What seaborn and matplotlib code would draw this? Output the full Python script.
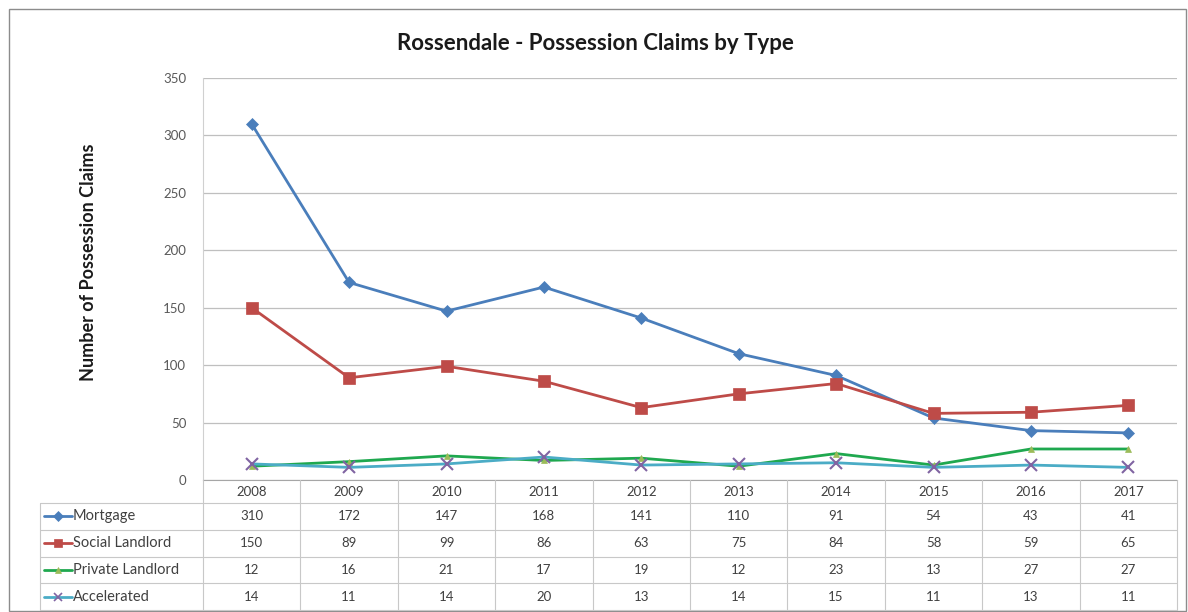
import numpy as np
import pandas as pd
import seaborn as sns
import matplotlib.pyplot as plt
from matplotlib.lines import Line2D
from matplotlib.patches import Rectangle

years = [2008, 2009, 2010, 2011, 2012, 2013, 2014, 2015, 2016, 2017]
mortgage = [310, 172, 147, 168, 141, 110, 91, 54, 43, 41]
social_landlord = [150, 89, 99, 86, 63, 75, 84, 58, 59, 65]
private_landlord = [12, 16, 21, 17, 19, 12, 23, 13, 27, 27]
accelerated = [14, 11, 14, 20, 13, 14, 15, 11, 13, 11]

series_names = ["Mortgage", "Social Landlord", "Private Landlord", "Accelerated"]
series_vals = [mortgage, social_landlord, private_landlord, accelerated]

# line colour, marker, marker size, marker face, marker edge
styles = {
    "Mortgage": ("#4A7EBB", "D", 6.5, "#4A7EBB", "#4A7EBB"),
    "Social Landlord": ("#BE4B48", "s", 8, "#BE4B48", "#BE4B48"),
    "Private Landlord": ("#1FA84F", "^", 5, "#9BBB59", "#9BBB59"),
    "Accelerated": ("#4BACC6", "x", 8, "#8064A2", "#8064A2"),
}

rows = []
for name, vals in zip(series_names, series_vals):
    for y, v in zip(years, vals):
        rows.append({"Year": y, "Type": name, "Claims": v})
df = pd.DataFrame(rows)

sns.set_style("white")
plt.rcParams['font.family'] = ['Lato', 'DejaVu Sans']

W, H = 1188, 612
fig = plt.figure(figsize=(W / 100, H / 100), dpi=100)

ax_l, ax_r, ax_t, ax_b = 203, 1177, 78, 480
ax = fig.add_axes([ax_l / W, 1 - ax_b / H, (ax_r - ax_l) / W, (ax_b - ax_t) / H])

for name in series_names:
    c, m, ms, mfc, mec = styles[name]
    sub = df[df["Type"] == name]
    sns.lineplot(data=sub, x="Year", y="Claims", ax=ax, color=c, linewidth=2.0,
                 marker=m, markersize=ms, markerfacecolor=mfc, markeredgecolor=mec,
                 markeredgewidth=1.5 if m == "x" else 0.5, legend=False)

ax.set_xlim(years[0] - 0.5, years[-1] + 0.5)
ax.set_ylim(0, 350)
ax.set_yticks(range(0, 351, 50))
ax.set_xticks([])
ax.set_xlabel("")
ax.set_ylabel("")
ax.yaxis.grid(True, color="#BFBFBF", linewidth=0.9)
ax.set_axisbelow(True)
ax.tick_params(axis="y", labelsize=9.5, colors="#595959", length=0, pad=12)
for s in ["top", "right"]:
    ax.spines[s].set_visible(False)
ax.spines["left"].set_color("#D0D0D0")
ax.spines["bottom"].set_color("#A6A6A6")

fig.text(595 / W, 1 - 43 / H, "Rossendale - Possession Claims by Type",
         ha="center", va="center", fontsize=16, fontweight="bold", color="#1A1A1A")
fig.text(88 / W, 1 - 262 / H, "Number of Possession Claims", rotation=90,
         ha="center", va="center", fontsize=13, fontweight="bold", color="#1A1A1A")

# data table under the axis
grid_c = "#C8C8C8"
col_w = (ax_r - ax_l) / len(years)
head_b = 503
row_h = 26.75
tab_l = 40
tab_b = head_b + row_h * len(series_names)

def fx(px):
    return px / W

def fy(py):
    return 1 - py / H

for i in range(len(years) + 1):
    x = ax_l + i * col_w
    fig.add_artist(Line2D([fx(x), fx(x)], [fy(ax_b), fy(tab_b)], color=grid_c, lw=0.8))
fig.add_artist(Line2D([fx(tab_l), fx(tab_l)], [fy(head_b), fy(tab_b)], color=grid_c, lw=0.8))
for j in range(len(series_names) + 1):
    y = head_b + j * row_h
    fig.add_artist(Line2D([fx(tab_l), fx(ax_r)], [fy(y), fy(y)], color=grid_c, lw=0.8))

for i, yr in enumerate(years):
    fig.text(fx(ax_l + (i + 0.5) * col_w), fy((ax_b + head_b) / 2), str(yr),
             ha="center", va="center", fontsize=9.5, color="#404040")

for j, (name, vals) in enumerate(zip(series_names, series_vals)):
    yc = head_b + (j + 0.5) * row_h
    c, m, ms, mfc, mec = styles[name]
    fig.add_artist(Line2D([fx(44), fx(72)], [fy(yc), fy(yc)], color=c, lw=2.0))
    fig.add_artist(Line2D([fx(58)], [fy(yc)], marker=m, markersize=ms * 0.8,
                          markerfacecolor=mfc, markeredgecolor=mec,
                          markeredgewidth=1.2 if m == "x" else 0.5, lw=0))
    fig.text(fx(73), fy(yc), name, ha="left", va="center", fontsize=10.5, color="#404040")
    for i, v in enumerate(vals):
        fig.text(fx(ax_l + (i + 0.5) * col_w), fy(yc), str(v),
                 ha="center", va="center", fontsize=9.5, color="#404040")

fig.add_artist(Rectangle((fx(9), fy(611)), fx(1186) - fx(9), fy(9) - fy(611),
                         fill=False, edgecolor="#8C8C8C", lw=1.0))

fig.savefig("out.png", dpi=100)
